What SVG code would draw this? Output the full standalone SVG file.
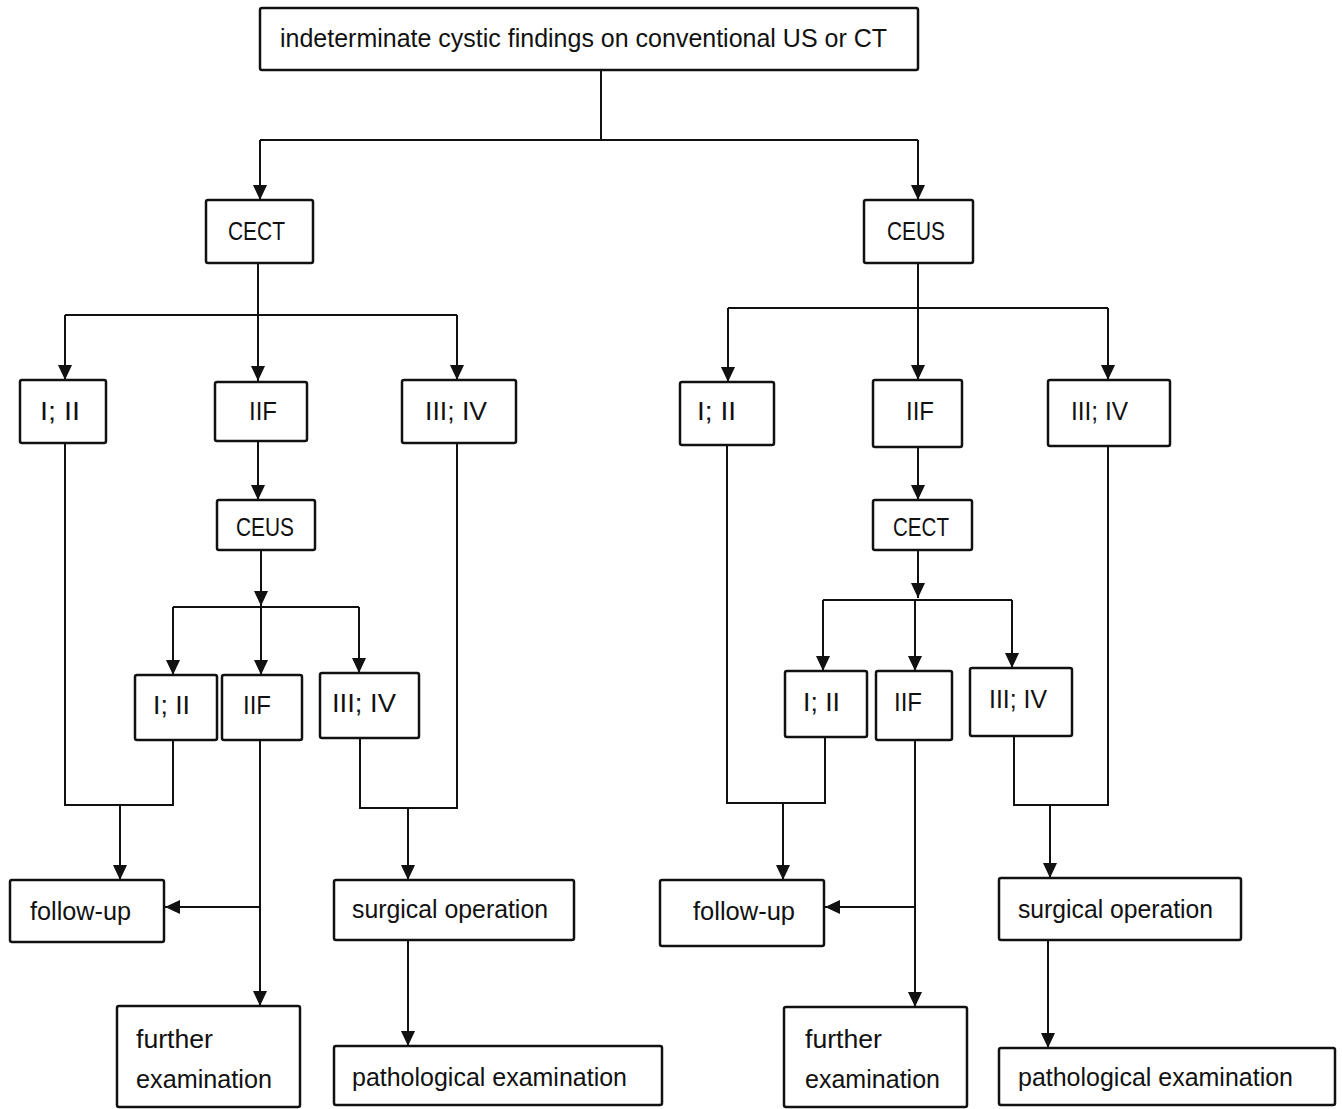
<svg xmlns="http://www.w3.org/2000/svg" width="1342" height="1109" viewBox="0 0 1342 1109">
<style>
.box{fill:#fff;stroke:#111;stroke-width:2.5}
.t{font-family:"Liberation Sans",Arial,sans-serif;font-size:26px;fill:#111}
.c{fill:none;stroke:#111;stroke-width:2}
</style>
<defs>
<marker id="ah" markerUnits="userSpaceOnUse" markerWidth="16" markerHeight="14" refX="15" refY="7" orient="auto">
<path d="M0,0 L15,7 L0,14 z" fill="#111"/>
</marker>
</defs>
<rect width="1342" height="1109" fill="#fff"/>
<g id="connectors">
<path class="c" d="M601,70 V140 M260,140 H918"/>
<path class="c" d="M260,140 V200" marker-end="url(#ah)"/>
<path class="c" d="M918,140 V200" marker-end="url(#ah)"/>
<path class="c" d="M258,263 V381" marker-end="url(#ah)"/>
<path class="c" d="M65,315 H457"/>
<path class="c" d="M65,315 V380" marker-end="url(#ah)"/>
<path class="c" d="M457,315 V380" marker-end="url(#ah)"/>
<path class="c" d="M258,441 V500" marker-end="url(#ah)"/>
<path class="c" d="M261,550 V606" marker-end="url(#ah)"/>
<path class="c" d="M173,607 H359"/>
<path class="c" d="M173,607 V675" marker-end="url(#ah)"/>
<path class="c" d="M261,607 V675" marker-end="url(#ah)"/>
<path class="c" d="M359,607 V673" marker-end="url(#ah)"/>
<path class="c" d="M65,443 V805 H173 V740"/>
<path class="c" d="M120,805 V880" marker-end="url(#ah)"/>
<path class="c" d="M457,443 V808 H360 V738"/>
<path class="c" d="M408,808 V880" marker-end="url(#ah)"/>
<path class="c" d="M260,740 V1006" marker-end="url(#ah)"/>
<path class="c" d="M260,907 H165" marker-end="url(#ah)"/>
<path class="c" d="M408,940 V1046" marker-end="url(#ah)"/>
<path class="c" d="M918,263 V380" marker-end="url(#ah)"/>
<path class="c" d="M728,308 H1108"/>
<path class="c" d="M728,308 V382" marker-end="url(#ah)"/>
<path class="c" d="M1108,308 V380" marker-end="url(#ah)"/>
<path class="c" d="M918,447 V500" marker-end="url(#ah)"/>
<path class="c" d="M918,550 V598" marker-end="url(#ah)"/>
<path class="c" d="M823,600 H1012"/>
<path class="c" d="M823,600 V671" marker-end="url(#ah)"/>
<path class="c" d="M915,600 V671" marker-end="url(#ah)"/>
<path class="c" d="M1012,600 V668" marker-end="url(#ah)"/>
<path class="c" d="M727,445 V803 H825 V737"/>
<path class="c" d="M783,803 V880" marker-end="url(#ah)"/>
<path class="c" d="M1108,446 V805 H1014 V736"/>
<path class="c" d="M1050,805 V878" marker-end="url(#ah)"/>
<path class="c" d="M915,740 V1007" marker-end="url(#ah)"/>
<path class="c" d="M915,907 H825" marker-end="url(#ah)"/>
<path class="c" d="M1048,940 V1048" marker-end="url(#ah)"/>
</g>
<g id="top"><rect class="box" x="260" y="8" width="658" height="62" rx="2"/><text class="t" x="280" y="47" textLength="607" lengthAdjust="spacingAndGlyphs">indeterminate cystic findings on conventional US or CT</text></g>
<g id="cect1"><rect class="box" x="206" y="200" width="107" height="63" rx="2"/><text class="t" x="228" y="240" textLength="57" lengthAdjust="spacingAndGlyphs">CECT</text></g>
<g id="ceus1"><rect class="box" x="864" y="200" width="109" height="63" rx="2"/><text class="t" x="887" y="240" textLength="58" lengthAdjust="spacingAndGlyphs">CEUS</text></g>
<g id="l_i_ii"><rect class="box" x="20" y="380" width="86" height="63" rx="2"/><text class="t" x="40" y="420" textLength="40" lengthAdjust="spacingAndGlyphs">I; II</text></g>
<g id="l_iif"><rect class="box" x="215" y="382" width="92" height="59" rx="2"/><text class="t" x="249" y="420" textLength="28" lengthAdjust="spacingAndGlyphs">IIF</text></g>
<g id="l_iii_iv"><rect class="box" x="402" y="380" width="114" height="63" rx="2"/><text class="t" x="425" y="420" textLength="62" lengthAdjust="spacingAndGlyphs">III; IV</text></g>
<g id="r_i_ii"><rect class="box" x="680" y="382" width="94" height="63" rx="2"/><text class="t" x="697" y="420" textLength="39" lengthAdjust="spacingAndGlyphs">I; II</text></g>
<g id="r_iif"><rect class="box" x="873" y="380" width="89" height="67" rx="2"/><text class="t" x="906" y="420" textLength="28" lengthAdjust="spacingAndGlyphs">IIF</text></g>
<g id="r_iii_iv"><rect class="box" x="1048" y="380" width="122" height="66" rx="2"/><text class="t" x="1071" y="420" textLength="57" lengthAdjust="spacingAndGlyphs">III; IV</text></g>
<g id="ceus2"><rect class="box" x="217" y="500" width="98" height="50" rx="2"/><text class="t" x="236" y="536" textLength="58" lengthAdjust="spacingAndGlyphs">CEUS</text></g>
<g id="cect2"><rect class="box" x="873" y="500" width="99" height="50" rx="2"/><text class="t" x="893" y="536" textLength="56" lengthAdjust="spacingAndGlyphs">CECT</text></g>
<g id="lm_i_ii"><rect class="box" x="135" y="675" width="82" height="65" rx="2"/><text class="t" x="153" y="714" textLength="37" lengthAdjust="spacingAndGlyphs">I; II</text></g>
<g id="lm_iif"><rect class="box" x="222" y="675" width="80" height="65" rx="2"/><text class="t" x="243" y="714" textLength="28" lengthAdjust="spacingAndGlyphs">IIF</text></g>
<g id="lm_iii_iv"><rect class="box" x="320" y="673" width="99" height="65" rx="2"/><text class="t" x="332" y="712" textLength="64" lengthAdjust="spacingAndGlyphs">III; IV</text></g>
<g id="rm_i_ii"><rect class="box" x="785" y="671" width="82" height="66" rx="2"/><text class="t" x="803" y="711" textLength="37" lengthAdjust="spacingAndGlyphs">I; II</text></g>
<g id="rm_iif"><rect class="box" x="876" y="671" width="76" height="69" rx="2"/><text class="t" x="894" y="711" textLength="28" lengthAdjust="spacingAndGlyphs">IIF</text></g>
<g id="rm_iii_iv"><rect class="box" x="970" y="668" width="102" height="68" rx="2"/><text class="t" x="989" y="708" textLength="58" lengthAdjust="spacingAndGlyphs">III; IV</text></g>
<g id="l_follow"><rect class="box" x="10" y="880" width="154" height="62" rx="2"/><text class="t" x="30" y="920" textLength="101" lengthAdjust="spacingAndGlyphs">follow-up</text></g>
<g id="l_surg"><rect class="box" x="334" y="880" width="240" height="60" rx="2"/><text class="t" x="352" y="918" textLength="196" lengthAdjust="spacingAndGlyphs">surgical operation</text></g>
<g id="l_further"><rect class="box" x="117" y="1006" width="183" height="101" rx="2"/><text class="t" x="136" y="1048" textLength="77" lengthAdjust="spacingAndGlyphs">further</text><text class="t" x="136" y="1088" textLength="136" lengthAdjust="spacingAndGlyphs">examination</text></g>
<g id="l_path"><rect class="box" x="334" y="1046" width="328" height="59" rx="2"/><text class="t" x="352" y="1086" textLength="275" lengthAdjust="spacingAndGlyphs">pathological examination</text></g>
<g id="r_follow"><rect class="box" x="660" y="880" width="164" height="66" rx="2"/><text class="t" x="693" y="920" textLength="102" lengthAdjust="spacingAndGlyphs">follow-up</text></g>
<g id="r_surg"><rect class="box" x="999" y="878" width="242" height="62" rx="2"/><text class="t" x="1018" y="918" textLength="195" lengthAdjust="spacingAndGlyphs">surgical operation</text></g>
<g id="r_further"><rect class="box" x="784" y="1007" width="183" height="100" rx="2"/><text class="t" x="805" y="1048" textLength="77" lengthAdjust="spacingAndGlyphs">further</text><text class="t" x="805" y="1088" textLength="135" lengthAdjust="spacingAndGlyphs">examination</text></g>
<g id="r_path"><rect class="box" x="999" y="1048" width="336" height="57" rx="2"/><text class="t" x="1018" y="1086" textLength="275" lengthAdjust="spacingAndGlyphs">pathological examination</text></g>
</svg>
